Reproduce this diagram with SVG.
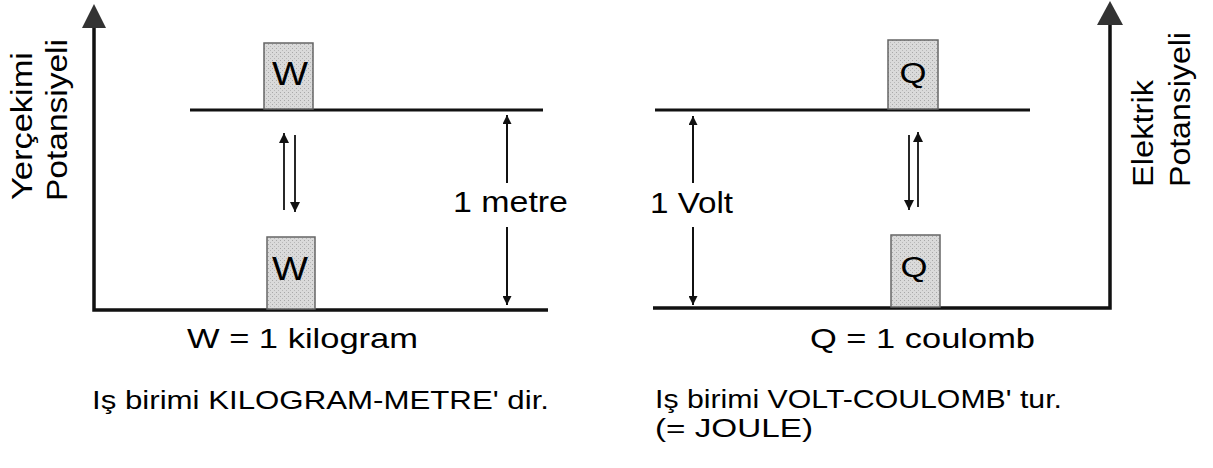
<svg xmlns="http://www.w3.org/2000/svg" width="1213" height="468" viewBox="0 0 1213 468">
  <style>
    .txt { font-family: "Liberation Sans", Arial, sans-serif; fill: #000; }
    .axis { stroke: #111; stroke-width: 3.5; fill: none; }
    .level { stroke: #111; stroke-width: 3; fill: none; }
    .dim { stroke: #111; stroke-width: 2; fill: none; }
    .move { stroke: #111; stroke-width: 1.8; fill: none; }
    .box { fill: url(#stipple); stroke: #666; stroke-width: 1.5; }
    .head { fill: #333; }
  </style>
  <defs>
    <pattern id="stipple" width="4" height="4" patternUnits="userSpaceOnUse">
      <rect width="4" height="4" fill="#dadada"/>
      <rect x="0" y="0" width="1" height="1" fill="#a8a8a8"/>
      <rect x="2" y="2" width="1" height="1" fill="#b8b8b8"/>
    </pattern>
    <marker id="tip" viewBox="0 0 10 10" refX="10" refY="5" markerWidth="12" markerHeight="9" markerUnits="userSpaceOnUse" orient="auto-start-reverse">
      <path d="M0,0 L10,5 L0,10 Z" fill="#111"/>
    </marker>
    <marker id="tipSmall" viewBox="0 0 10 10" refX="10" refY="5" markerWidth="11" markerHeight="10" markerUnits="userSpaceOnUse" orient="auto-start-reverse">
      <path d="M0,0 L10,5 L0,10 Z" fill="#111"/>
    </marker>
  </defs>

  <!-- axes, levels and arrows -->
  <g id="connectors">
    <!-- gravitational axis -->
    <polyline class="axis" points="94,28 94,310 548,310"/>
    <polygon class="head" points="94,4 106,28 82,28"/>
    <line class="level" x1="190" y1="110" x2="543" y2="110"/>
    <!-- electric axis -->
    <polyline class="axis" points="1110,25 1110,308 653,308"/>
    <polygon class="head" points="1110,1 1123,25 1097,25"/>
    <line class="level" x1="655" y1="110" x2="1030" y2="110"/>

    <!-- 1 metre dimension -->
    <line class="dim" x1="507" y1="183" x2="507" y2="115" marker-end="url(#tip)"/>
    <line class="dim" x1="507" y1="227" x2="507" y2="305" marker-end="url(#tip)"/>
    <!-- 1 Volt dimension -->
    <line class="dim" x1="693" y1="183" x2="693" y2="116" marker-end="url(#tip)"/>
    <line class="dim" x1="693" y1="227" x2="693" y2="305" marker-end="url(#tip)"/>

    <!-- W up/down -->
    <line class="move" x1="284" y1="210" x2="284" y2="133" marker-end="url(#tipSmall)"/>
    <line class="move" x1="295" y1="135" x2="295" y2="212" marker-end="url(#tipSmall)"/>
    <!-- Q up/down -->
    <line class="move" x1="909" y1="135" x2="909" y2="210" marker-end="url(#tipSmall)"/>
    <line class="move" x1="918" y1="207" x2="918" y2="132" marker-end="url(#tipSmall)"/>
  </g>

  <g id="mass-top">
    <rect class="box" x="264" y="43" width="49" height="66"/>
    <text class="txt" x="290" y="85" font-size="34" text-anchor="middle" textLength="36" lengthAdjust="spacingAndGlyphs">W</text>
  </g>
  <g id="mass-bottom">
    <rect class="box" x="267" y="237" width="48" height="72"/>
    <text class="txt" x="290" y="280" font-size="34" text-anchor="middle" textLength="36" lengthAdjust="spacingAndGlyphs">W</text>
  </g>
  <g id="charge-top">
    <rect class="box" x="888" y="40" width="50" height="69"/>
    <text class="txt" x="913" y="83" font-size="30" text-anchor="middle" textLength="27" lengthAdjust="spacingAndGlyphs">Q</text>
  </g>
  <g id="charge-bottom">
    <rect class="box" x="891" y="235" width="49" height="72"/>
    <text class="txt" x="914" y="277" font-size="30" text-anchor="middle" textLength="27" lengthAdjust="spacingAndGlyphs">Q</text>
  </g>

  <g id="dimension-labels">
    <text class="txt" x="453" y="212" font-size="30" textLength="115" lengthAdjust="spacingAndGlyphs">1 metre</text>
    <text class="txt" x="650" y="213" font-size="30" textLength="83" lengthAdjust="spacingAndGlyphs">1 Volt</text>
  </g>

  <g id="axis-labels">
    <text class="txt" transform="translate(32,200) rotate(-90)" font-size="29" textLength="148" lengthAdjust="spacingAndGlyphs">Yerçekimi</text>
    <text class="txt" transform="translate(67,201) rotate(-90)" font-size="29" textLength="162" lengthAdjust="spacingAndGlyphs">Potansiyeli</text>
    <text class="txt" transform="translate(1153,187) rotate(-90)" font-size="29" textLength="107" lengthAdjust="spacingAndGlyphs">Elektrik</text>
    <text class="txt" transform="translate(1190,187) rotate(-90)" font-size="29" textLength="155" lengthAdjust="spacingAndGlyphs">Potansiyeli</text>
  </g>

  <g id="captions">
    <text class="txt" x="187" y="348" font-size="28" textLength="231" lengthAdjust="spacingAndGlyphs">W = 1 kilogram</text>
    <text class="txt" x="810" y="348" font-size="28" textLength="225" lengthAdjust="spacingAndGlyphs">Q = 1 coulomb</text>
    <text class="txt" x="92" y="409" font-size="25" textLength="457" lengthAdjust="spacingAndGlyphs">Iş birimi KILOGRAM-METRE' dir.</text>
    <text class="txt" x="655" y="408" font-size="25" textLength="407" lengthAdjust="spacingAndGlyphs">Iş birimi VOLT-COULOMB' tur.</text>
    <text class="txt" x="655" y="437" font-size="25" textLength="158" lengthAdjust="spacingAndGlyphs">(= JOULE)</text>
  </g>
</svg>
